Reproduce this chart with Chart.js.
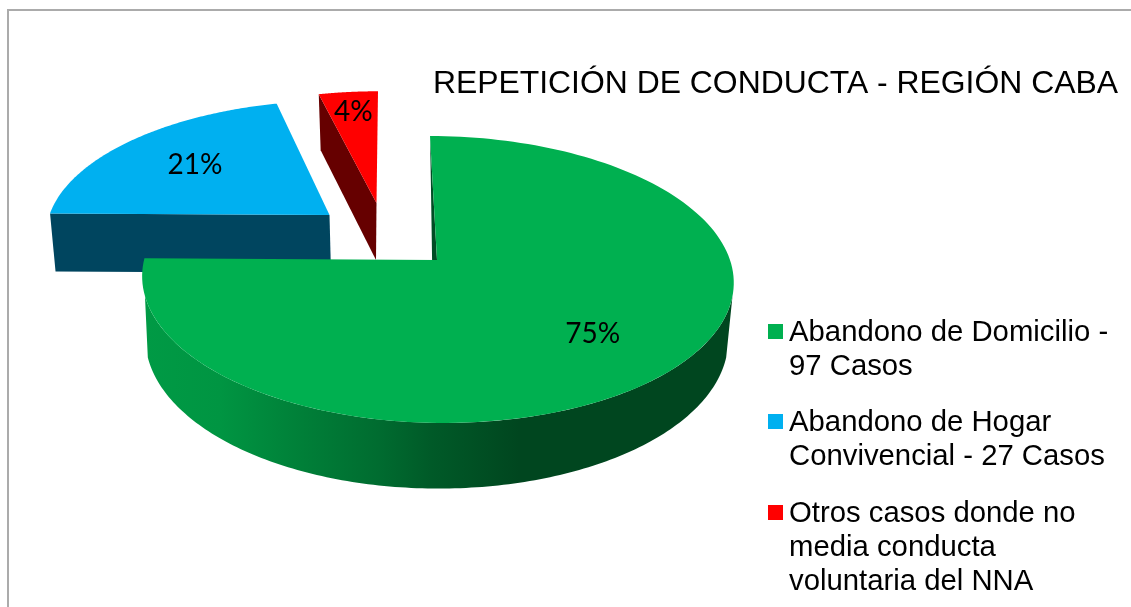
<!DOCTYPE html>
<html>
<head>
<meta charset="utf-8">
<style>html,body{margin:0;padding:0;background:#fff}canvas{display:block}</style>
<script src="https://cdn.jsdelivr.net/npm/chart.js@4"></script>
</head>
<body>
<canvas id="c" width="1131" height="607"></canvas>
<script>
const titleText = 'REPETICIÓN DE CONDUCTA - REGIÓN CABA';
const categories = [
  ['Abandono de Domicilio -', '97 Casos'],
  ['Abandono de Hogar', 'Convivencial - 27 Casos'],
  ['Otros casos donde no', 'media conducta', 'voluntaria del NNA']
];
const casos = [97, 27, 5];
const colores = ['#00B050', '#00B0F0', '#FF0000'];
const coloresPared = ['#004D25', '#00455F', '#660000'];

/* projection of each exploded slice (relative to the arc centre the library computes) */
const BX = 559, BY = 355.1;
const geometry = [
  { top:{dx:437-BX,dy:260-BY,rx:293,ry:140.8,k:.136,s:7}, bot:{dx:436.5-BX,dy:320-BY,rx:289,ry:147,k:.128,s:2}, wallShift:-3.5, outer:true, labelR:.69 },
  { top:{dx:329.5-BX,dy:215-BY,rx:280,ry:129,k:.128,s:-7.5}, bot:{dx:331-BX,dy:273-BY,rx:276,ry:129,k:.128,s:-7.5}, wallShift:0, outer:false, labelR:.66 },
  { top:{dx:376.5-BX,dy:203-BY,rx:276,ry:126,k:.128,s:-1.5}, bot:{dx:376-BX,dy:260-BY,rx:258,ry:127,k:.128,s:0}, wallShift:0, outer:false, labelR:.80 }
];
const sideStops = [[0,'#009A45'],[.13,'#009542'],[.27,'#007F38'],[.4,'#006C30'],[.49,'#005A28'],[.64,'#00461F'],[1,'#00461F']];
const silhouetteAngle = 0.25;

function proj(g, X, Y, a, f) {
  f = f === undefined ? 1 : f;
  const u = Math.cos(a) * f, v = Math.sin(a) * f, d = 1 - g.k * v;
  return { x: X + g.dx + g.rx * u / d + g.s * v, y: Y + g.dy + g.ry * v / d };
}

class Arc3D extends Chart.ArcElement {
  draw(ctx) {
    const { x, y, startAngle, endAngle } = this.getProps(['x', 'y', 'startAngle', 'endAngle']);
    const i = this.$context.index, G = geometry[i], n = 160;
    ctx.save();
    ctx.lineJoin = 'round';
    // radial wall on the slice's leading edge
    const b0 = proj(G.bot,x,y,startAngle,0), b1 = proj(G.bot,x,y,startAngle);
    const q = [proj(G.top,x,y,startAngle), proj(G.top,x,y,startAngle,0), {x:b0.x+G.wallShift,y:b0.y}, {x:b1.x+G.wallShift,y:b1.y}];
    ctx.beginPath();
    q.forEach((p, k) => k ? ctx.lineTo(p.x, p.y) : ctx.moveTo(p.x, p.y));
    ctx.closePath();
    ctx.fillStyle = coloresPared[i];
    ctx.fill();
    // curved outer wall
    if (G.outer) {
      const left = proj(G.top,x,y,Math.PI), right = proj(G.top,x,y,0);
      const grad = ctx.createLinearGradient(left.x, 0, right.x, 0);
      sideStops.forEach(s => grad.addColorStop(s[0], s[1]));
      const a0 = silhouetteAngle, a1 = Math.min(endAngle, Math.PI - silhouetteAngle);
      ctx.beginPath();
      for (let k = 0; k <= n; k++) { const a = a0 + (a1 - a0) * k / n, p = proj(G.top,x,y,a); k ? ctx.lineTo(p.x,p.y) : ctx.moveTo(p.x,p.y); }
      for (let k = n; k >= 0; k--) { const a = a0 + (a1 - a0) * k / n, p = proj(G.bot,x,y,a); ctx.lineTo(p.x,p.y); }
      ctx.closePath();
      ctx.fillStyle = grad;
      ctx.fill();
    }
    // top face
    const c = proj(G.top,x,y,0,0);
    ctx.beginPath();
    ctx.moveTo(c.x, c.y);
    for (let k = 0; k <= n; k++) { const p = proj(G.top,x,y,startAngle + (endAngle - startAngle) * k / n); ctx.lineTo(p.x,p.y); }
    ctx.closePath();
    ctx.fillStyle = this.options.backgroundColor;
    ctx.fill();
    ctx.restore();
  }
}
Arc3D.id = 'arc3d';

class Pie3D extends Chart.PieController {
  draw() {
    const meta = this._cachedMeta, ctx = this.chart.ctx;
    for (let i = meta.data.length - 1; i >= 0; i--) meta.data[i].draw(ctx);
  }
}
Pie3D.id = 'pie3d';
Pie3D.defaults = { dataElementType: 'arc3d' };
Chart.register(Arc3D, Pie3D);

const frame = {
  id: 'frame',
  beforeDraw(chart) {
    const ctx = chart.ctx;
    ctx.save();
    ctx.strokeStyle = '#ABABAB';
    ctx.lineWidth = 2;
    ctx.beginPath();
    ctx.moveTo(8, 607); ctx.lineTo(8, 10); ctx.lineTo(1131, 10);
    ctx.stroke();
    ctx.restore();
  }
};

const overlay = {
  id: 'overlay',
  afterDraw(chart) {
    const ctx = chart.ctx, meta = chart.getDatasetMeta(0);
    const total = casos.reduce((a, b) => a + b, 0);
    ctx.save();
    ctx.fillStyle = '#000';
    ctx.textBaseline = 'middle';
    ctx.textAlign = 'center';
    ctx.font = '28px Lato';
    meta.data.forEach((el, i) => {
      const G = geometry[i], p = proj(G.top, el.x, el.y, (el.startAngle + el.endAngle) / 2, G.labelR);
      ctx.fillText(Math.round(casos[i] / total * 100) + '%', p.x, p.y);
    });
    // legend
    const tops = [333, 423, 514];
    ctx.textAlign = 'left';
    ctx.font = '29.3px "Liberation Sans"';
    categories.forEach((lines, i) => {
      ctx.fillStyle = colores[i];
      ctx.fillRect(768, tops[i] - 9, 15, 15);
      ctx.fillStyle = '#000';
      lines.forEach((t, j) => ctx.fillText(t, 789, tops[i] + j * 34));
    });
    ctx.restore();
  }
};

new Chart(document.getElementById('c'), {
  type: 'pie3d',
  data: { labels: categories, datasets: [{ data: casos, backgroundColor: colores, borderWidth: 0 }] },
  options: {
    responsive: false,
    animation: false,
    layout: { padding: { right: 13 } },
    plugins: {
      legend: { display: false },
      tooltip: { enabled: false },
      title: {
        display: true, text: titleText, align: 'end', color: '#000',
        font: { family: '"Liberation Sans"', size: 31.9, weight: 'normal', lineHeight: 1.2 },
        padding: { top: 64.9, bottom: 0 }
      }
    }
  },
  plugins: [frame, overlay]
});
</script>
</body>
</html>
